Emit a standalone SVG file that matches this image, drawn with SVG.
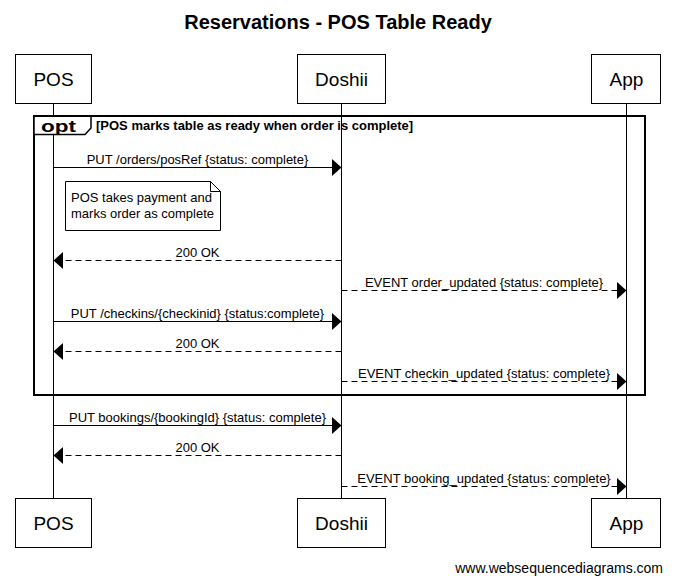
<svg xmlns="http://www.w3.org/2000/svg" width="675" height="582" viewBox="0 0 675 582">
<style>
text{font-family:"Liberation Sans",Arial,sans-serif;fill:#000}
.title{font-size:20px;font-weight:bold}
.part{font-size:19px}
.lbl{font-size:13px}
.cond{font-size:13px;font-weight:bold}
.opt{font-size:17px;font-weight:bold}
.box{fill:#fff;stroke:#000;stroke-width:1}
.life{stroke:#000;stroke-width:1;fill:none}
.msg{stroke:#000;stroke-width:1;fill:none}
.dash{stroke-dasharray:6,4}
.head{fill:#000;stroke:none}
</style>
<rect width="675" height="582" fill="#fff"/>
<text class="title" x="338" y="29" text-anchor="middle">Reservations - POS Table Ready</text>
<g id="lifelines">
<line class="life" x1="53.5" y1="103" x2="53.5" y2="499"/>
<line class="life" x1="341.5" y1="103" x2="341.5" y2="499"/>
<line class="life" x1="626.5" y1="103" x2="626.5" y2="499"/>
</g>
<g id="POS">
<rect class="box" x="15.5" y="54.5" width="76" height="49"/>
<text class="part" x="53.5" y="86" text-anchor="middle">POS</text>
<rect class="box" x="15.5" y="498.5" width="76" height="49"/>
<text class="part" x="53.5" y="530" text-anchor="middle">POS</text>
</g>
<g id="Doshii">
<rect class="box" x="297.5" y="54.5" width="88" height="49"/>
<text class="part" x="341.5" y="86" text-anchor="middle">Doshii</text>
<rect class="box" x="297.5" y="498.5" width="88" height="49"/>
<text class="part" x="341.5" y="530" text-anchor="middle">Doshii</text>
</g>
<g id="App">
<rect class="box" x="591.5" y="54.5" width="69" height="49"/>
<text class="part" x="626.5" y="86" text-anchor="middle">App</text>
<rect class="box" x="591.5" y="498.5" width="69" height="49"/>
<text class="part" x="626.5" y="530" text-anchor="middle">App</text>
</g>
<g id="opt-frame">
<rect x="34" y="116" width="611" height="279" fill="none" stroke="#000" stroke-width="2"/>
<path d="M34 116 V134.5 H85 L91 128 V116 Z" fill="#fff" stroke="#000" stroke-width="1.5"/>
<line x1="34" y1="116" x2="91" y2="116" stroke="#000" stroke-width="2"/>
<text class="opt" x="41" y="132" textLength="35" lengthAdjust="spacingAndGlyphs">opt</text>
<text class="cond" x="96" y="130">[POS marks table as ready when order is complete]</text>
</g>
<g id="note">
<path d="M65.5 181.5 H210.5 L220.5 191.5 V230.5 H65.5 Z" fill="#fff" stroke="#000" stroke-width="1"/>
<path d="M210.5 181.5 V191.5 H220.5" fill="none" stroke="#000" stroke-width="1"/>
<text class="lbl" x="71" y="202">POS takes payment and</text>
<text class="lbl" x="71" y="218">marks order as complete</text>
</g>
<g id="connectors">
<line class="msg" x1="53.5" y1="167.5" x2="333" y2="167.5"/>
<polygon class="head" points="341.5,167.5 332,159 332,176"/>
<text class="lbl" x="197.5" y="163.5" text-anchor="middle">PUT /orders/posRef {status: complete}</text>

<line class="msg dash" x1="341.5" y1="260.5" x2="62" y2="260.5"/>
<polygon class="head" points="53.5,260.5 63,252 63,269"/>
<text class="lbl" x="197.5" y="256.5" text-anchor="middle">200 OK</text>

<line class="msg dash" x1="341.5" y1="290.5" x2="618" y2="290.5"/>
<polygon class="head" points="626.5,290.5 617,282 617,299"/>
<text class="lbl" x="484" y="286.5" text-anchor="middle">EVENT order_updated {status: complete}</text>

<line class="msg" x1="53.5" y1="321.5" x2="333" y2="321.5"/>
<polygon class="head" points="341.5,321.5 332,313 332,330"/>
<text class="lbl" x="197.5" y="317.5" text-anchor="middle">PUT /checkins/{checkinid} {status:complete}</text>

<line class="msg dash" x1="341.5" y1="351.5" x2="62" y2="351.5"/>
<polygon class="head" points="53.5,351.5 63,343 63,360"/>
<text class="lbl" x="197.5" y="347.5" text-anchor="middle">200 OK</text>

<line class="msg dash" x1="341.5" y1="381.5" x2="618" y2="381.5"/>
<polygon class="head" points="626.5,381.5 617,373 617,390"/>
<text class="lbl" x="484" y="377.5" text-anchor="middle">EVENT checkin_updated {status: complete}</text>

<line class="msg" x1="53.5" y1="425.5" x2="333" y2="425.5"/>
<polygon class="head" points="341.5,425.5 332,417 332,434"/>
<text class="lbl" x="197.5" y="421.5" text-anchor="middle">PUT bookings/{bookingId} {status: complete}</text>

<line class="msg dash" x1="341.5" y1="455.5" x2="62" y2="455.5"/>
<polygon class="head" points="53.5,455.5 63,447 63,464"/>
<text class="lbl" x="197.5" y="451.5" text-anchor="middle">200 OK</text>

<line class="msg dash" x1="341.5" y1="486.5" x2="618" y2="486.5"/>
<polygon class="head" points="626.5,486.5 617,478 617,495"/>
<text class="lbl" x="484" y="482.5" text-anchor="middle">EVENT booking_updated {status: complete}</text>
</g>
<text x="663" y="573" text-anchor="end" style="font-size:14px">www.websequencediagrams.com</text>
</svg>
